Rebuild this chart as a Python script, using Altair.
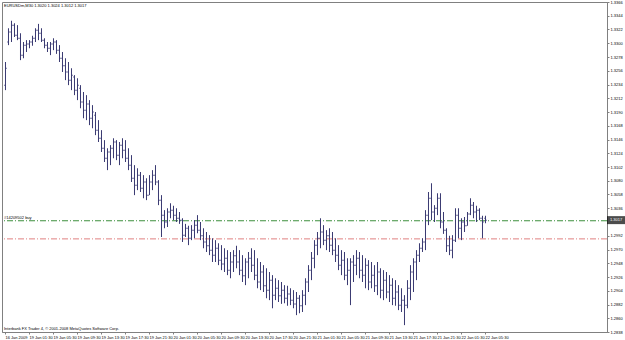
import altair as alt
import pandas as pd

# OHLC of EURUSDm M30 bars, in pips (1/10000)
high_pips = [13270,13324,13336,13332,13329,13316,13302,13305,13305,13312,
             13324,13331,13324,13308,13302,13302,13308,13305,13297,13286,
             13276,13270,13260,13249,13244,13233,13222,13217,13209,13201,
             13190,13177,13161,13145,13132,13137,13148,13145,13142,13148,
             13145,13132,13121,13105,13100,13094,13089,13084,13089,13097,
             13105,13081,13057,13033,13036,13044,13040,13036,13030,13020,
             13011,13008,13009,13017,13025,13014,13004,12998,12993,12988,
             12985,12980,12977,12972,12969,12966,12969,12976,12969,12961,
             12956,12966,12972,12969,12956,12950,12945,12940,12934,12929,
             12924,12921,12918,12913,12912,12908,12905,12902,12897,12905,
             12924,12945,12966,12985,12998,13020,13009,13001,13004,12998,
             12988,12977,12969,12966,12956,12956,12961,12969,12966,12961,
             12956,12953,12950,12945,12950,12940,12937,12934,12929,12924,
             12921,12913,12908,12897,12921,12945,12956,12969,12980,12988,
             13033,13062,13076,13041,13060,13060,13030,13004,12992,12993,
             13036,13036,13020,13022,13030,13052,13046,13040,13036,13024,
             13024]
low_pips = [13225,13297,13302,13310,13305,13273,13276,13286,13292,13296,
            13302,13305,13302,13292,13286,13281,13289,13283,13270,13254,
            13241,13233,13225,13217,13209,13196,13180,13177,13169,13164,
            13153,13142,13126,13110,13097,13105,13116,13113,13105,13116,
            13110,13097,13078,13057,13065,13062,13052,13049,13057,13065,
            13073,13041,12990,13004,13006,13020,13017,13014,13011,12982,
            12990,12977,12985,12988,12996,12985,12972,12966,12961,12950,
            12950,12945,12937,12934,12929,12924,12934,12940,12929,12918,
            12913,12924,12934,12921,12908,12905,12902,12892,12889,12876,
            12889,12886,12883,12884,12880,12881,12876,12865,12868,12870,
            12881,12902,12921,12940,12961,12972,12977,12969,12966,12961,
            12950,12937,12929,12921,12913,12881,12918,12929,12924,12918,
            12908,12905,12908,12902,12897,12892,12889,12892,12886,12881,
            12880,12873,12870,12849,12876,12889,12902,12921,12950,12966,
            12969,13009,13017,13014,13025,13004,12995,12966,12961,12956,
            12982,12988,12985,12998,13008,13025,13020,13014,13017,12988,
            13012]
open_pips = [13233,13302,13318,13329,13313,13308,13281,13297,13299,13302,
             13308,13321,13316,13305,13297,13292,13299,13302,13289,13276,
             13264,13254,13241,13246,13225,13228,13206,13193,13203,13180,
             13185,13161,13148,13132,13116,13126,13132,13142,13121,13137,
             13129,13116,13105,13084,13073,13089,13068,13078,13057,13078,
             13089,13078,13049,13025,13014,13030,13033,13025,13020,13017,
             12993,13004,12988,13001,13009,13001,12992,12982,12976,12969,
             12961,12972,12953,12947,12956,12937,12950,12960,12950,12937,
             12928,12950,12956,12945,12929,12918,12934,12912,12905,12921,
             12897,12908,12896,12905,12892,12899,12889,12883,12892,12880,
             12897,12918,12937,12956,12977,12988,12998,12985,12992,12977,
             12969,12961,12945,12953,12929,12937,12950,12945,12956,12937,
             12929,12945,12918,12929,12912,12934,12905,12921,12902,12913,
             12892,12902,12881,12889,12881,12908,12934,12950,12961,12972,
             12982,13025,13052,13030,13036,13052,13014,13001,12976,12969,
             12985,13025,13004,13014,13008,13027,13041,13030,13033,13020,
             13020]
close_pips = [13260,13318,13329,13313,13308,13281,13297,13299,13302,13308,
              13321,13316,13305,13297,13292,13299,13302,13289,13276,13264,
              13254,13241,13249,13225,13233,13206,13193,13203,13180,13190,
              13161,13148,13132,13116,13126,13132,13142,13121,13137,13129,
              13116,13105,13084,13073,13089,13068,13078,13057,13078,13089,
              13078,13049,13025,13014,13030,13033,13025,13020,13017,12993,
              13004,12988,13001,13009,13001,12992,12982,12976,12969,12961,
              12972,12953,12947,12956,12937,12950,12960,12950,12937,12928,
              12950,12956,12945,12929,12918,12934,12912,12905,12921,12897,
              12908,12896,12905,12892,12899,12889,12883,12892,12880,12897,
              12918,12937,12956,12977,12988,12998,12985,12992,12977,12969,
              12961,12945,12953,12929,12937,12950,12945,12956,12937,12929,
              12945,12918,12929,12912,12934,12905,12921,12902,12913,12892,
              12902,12881,12889,12881,12908,12934,12950,12961,12972,12982,
              13025,13052,13030,13036,13052,13014,13001,12976,12969,12985,
              13025,13004,13014,13008,13027,13041,13030,13033,13020,13014,
              13017]

x_labels = ["16 Jan 2009", "19 Jan 01:30", "19 Jan 05:30", "19 Jan 09:30", "19 Jan 13:30",
            "19 Jan 17:30", "19 Jan 21:30", "20 Jan 01:30", "20 Jan 05:30", "20 Jan 09:30",
            "20 Jan 13:30", "20 Jan 17:30", "20 Jan 21:30", "21 Jan 01:30", "21 Jan 05:30",
            "21 Jan 09:30", "21 Jan 13:30", "21 Jan 17:30", "21 Jan 21:30", "22 Jan 01:30",
            "22 Jan 05:30"]
x_tick_bars = [0, 8, 16, 24, 32, 40, 48, 56, 64, 72, 80, 88, 96, 104, 112, 120, 128, 136, 144, 152, 160]
# the 1.3014 label sits under the current-price box and is not shown
y_ticks = [1.2838, 1.2860, 1.2882, 1.2904, 1.2926, 1.2948, 1.2970, 1.2992, 1.3036,
           1.3058, 1.3080, 1.3102, 1.3124, 1.3146, 1.3168, 1.3190, 1.3212, 1.3234, 1.3256,
           1.3278, 1.3300, 1.3322, 1.3344, 1.3366]

order_price = 1.3016
order_label = "#14209502 buy"
stop_price = 1.2987
current_price = 1.3017
title_text = "EURUSDm,M30  1.3020 1.3024 1.3012 1.3017"
footer_text = "Interbank FX Trader 4, \u00a9 2001-2008 MetaQuotes Software Corp."

df = pd.DataFrame({
    "bar": list(range(len(high_pips))),
    "open": [v / 10000 for v in open_pips],
    "high": [v / 10000 for v in high_pips],
    "low": [v / 10000 for v in low_pips],
    "close": [v / 10000 for v in close_pips],
})

FONT = "Liberation Sans"
BAR = "#3a3a72"
GRAY = "#808080"

label_expr = "[" + ",".join("'%s'" % s for s in x_labels) + "][round(datum.value / 8)]"

xenc = alt.X("bar:Q",
             scale=alt.Scale(domain=[-1, 200.6667], nice=False, zero=False),
             axis=alt.Axis(values=x_tick_bars, labelExpr=label_expr, title=None, grid=False,
                           labelAlign="left", labelBaseline="top", labelFontSize=4, labelFont=FONT,
                           labelPadding=1, tickSize=2, labelOverlap=False, labelFlush=False,
                           domainColor=GRAY, tickColor=GRAY, labelColor="#000000"))
yscale = alt.Scale(domain=[1.2838, 1.3366], nice=False, zero=False)
yaxis = alt.Axis(orient="right", values=y_ticks, format=".4f", title=None, grid=False,
                 labelFontSize=4, labelFont=FONT, labelPadding=1, tickSize=2, labelOverlap=False,
                 labelFlush=False, domainColor=GRAY, tickColor=GRAY, labelColor="#000000",
                 labelBaseline="middle")

base = alt.Chart(df)
hl = base.mark_rule(color=BAR, strokeWidth=1, xOffset=0.5).encode(
    x=xenc, y=alt.Y("low:Q", scale=yscale, axis=yaxis), y2="high:Q")
op = base.mark_tick(orient="horizontal", size=1, thickness=1, xOffset=-0.5, color=BAR).encode(
    x=xenc, y=alt.Y("open:Q", scale=yscale, axis=yaxis))
cl = base.mark_tick(orient="horizontal", size=1, thickness=1, xOffset=1.5, color=BAR).encode(
    x=xenc, y=alt.Y("close:Q", scale=yscale, axis=yaxis))

order_df = pd.DataFrame({"p": [order_price], "t": [order_label]})
stop_df = pd.DataFrame({"p": [stop_price]})
cur_df = pd.DataFrame({"p": [current_price], "t": ["%.4f" % current_price]})

order_line = alt.Chart(order_df).mark_rule(color="#3c8f3c", strokeWidth=1, strokeDash=[6, 2, 1, 2]).encode(
    y=alt.Y("p:Q", scale=yscale, axis=yaxis))
stop_line = alt.Chart(stop_df).mark_rule(color="#e08080", strokeWidth=1, strokeDash=[6, 2, 1, 2]).encode(
    y=alt.Y("p:Q", scale=yscale, axis=yaxis))
order_text = alt.Chart(order_df).mark_text(align="left", baseline="bottom", fontSize=4, font=FONT,
                                           color="#000000", dy=-1).encode(
    x=alt.value(2), y=alt.Y("p:Q", scale=yscale, axis=yaxis), text="t:N")
cur_box = alt.Chart(cur_df).mark_tick(orient="horizontal", size=18, thickness=8, color="#000000").encode(
    x=alt.value(614), y=alt.Y("p:Q", scale=yscale, axis=yaxis))
cur_text = alt.Chart(cur_df).mark_text(align="left", baseline="middle", fontSize=4, font=FONT,
                                       color="#ffffff").encode(
    x=alt.value(608), y=alt.Y("p:Q", scale=yscale, axis=yaxis), text="t:N")

title = alt.Chart(pd.DataFrame({"t": [title_text]})).mark_text(
    align="left", baseline="middle", fontSize=4, font=FONT, color="#000000").encode(
    x=alt.value(2), y=alt.value(4), text="t:N")
footer = alt.Chart(pd.DataFrame({"t": [footer_text]})).mark_text(
    align="left", baseline="middle", fontSize=4, font=FONT, color="#000000").encode(
    x=alt.value(2), y=alt.value(327), text="t:N")

chart = alt.layer(order_line, stop_line, hl, op, cl, order_text, cur_box, cur_text, title, footer).properties(
    width=605, height=330,
    autosize=alt.AutoSizeParams(type="none"),
    padding={"left": 2, "top": 2, "right": 18, "bottom": 8},
    background="#ffffff",
).configure_view(stroke=GRAY, strokeWidth=1)

chart.save("out.html", embed_options={"renderer": "svg", "actions": False})
